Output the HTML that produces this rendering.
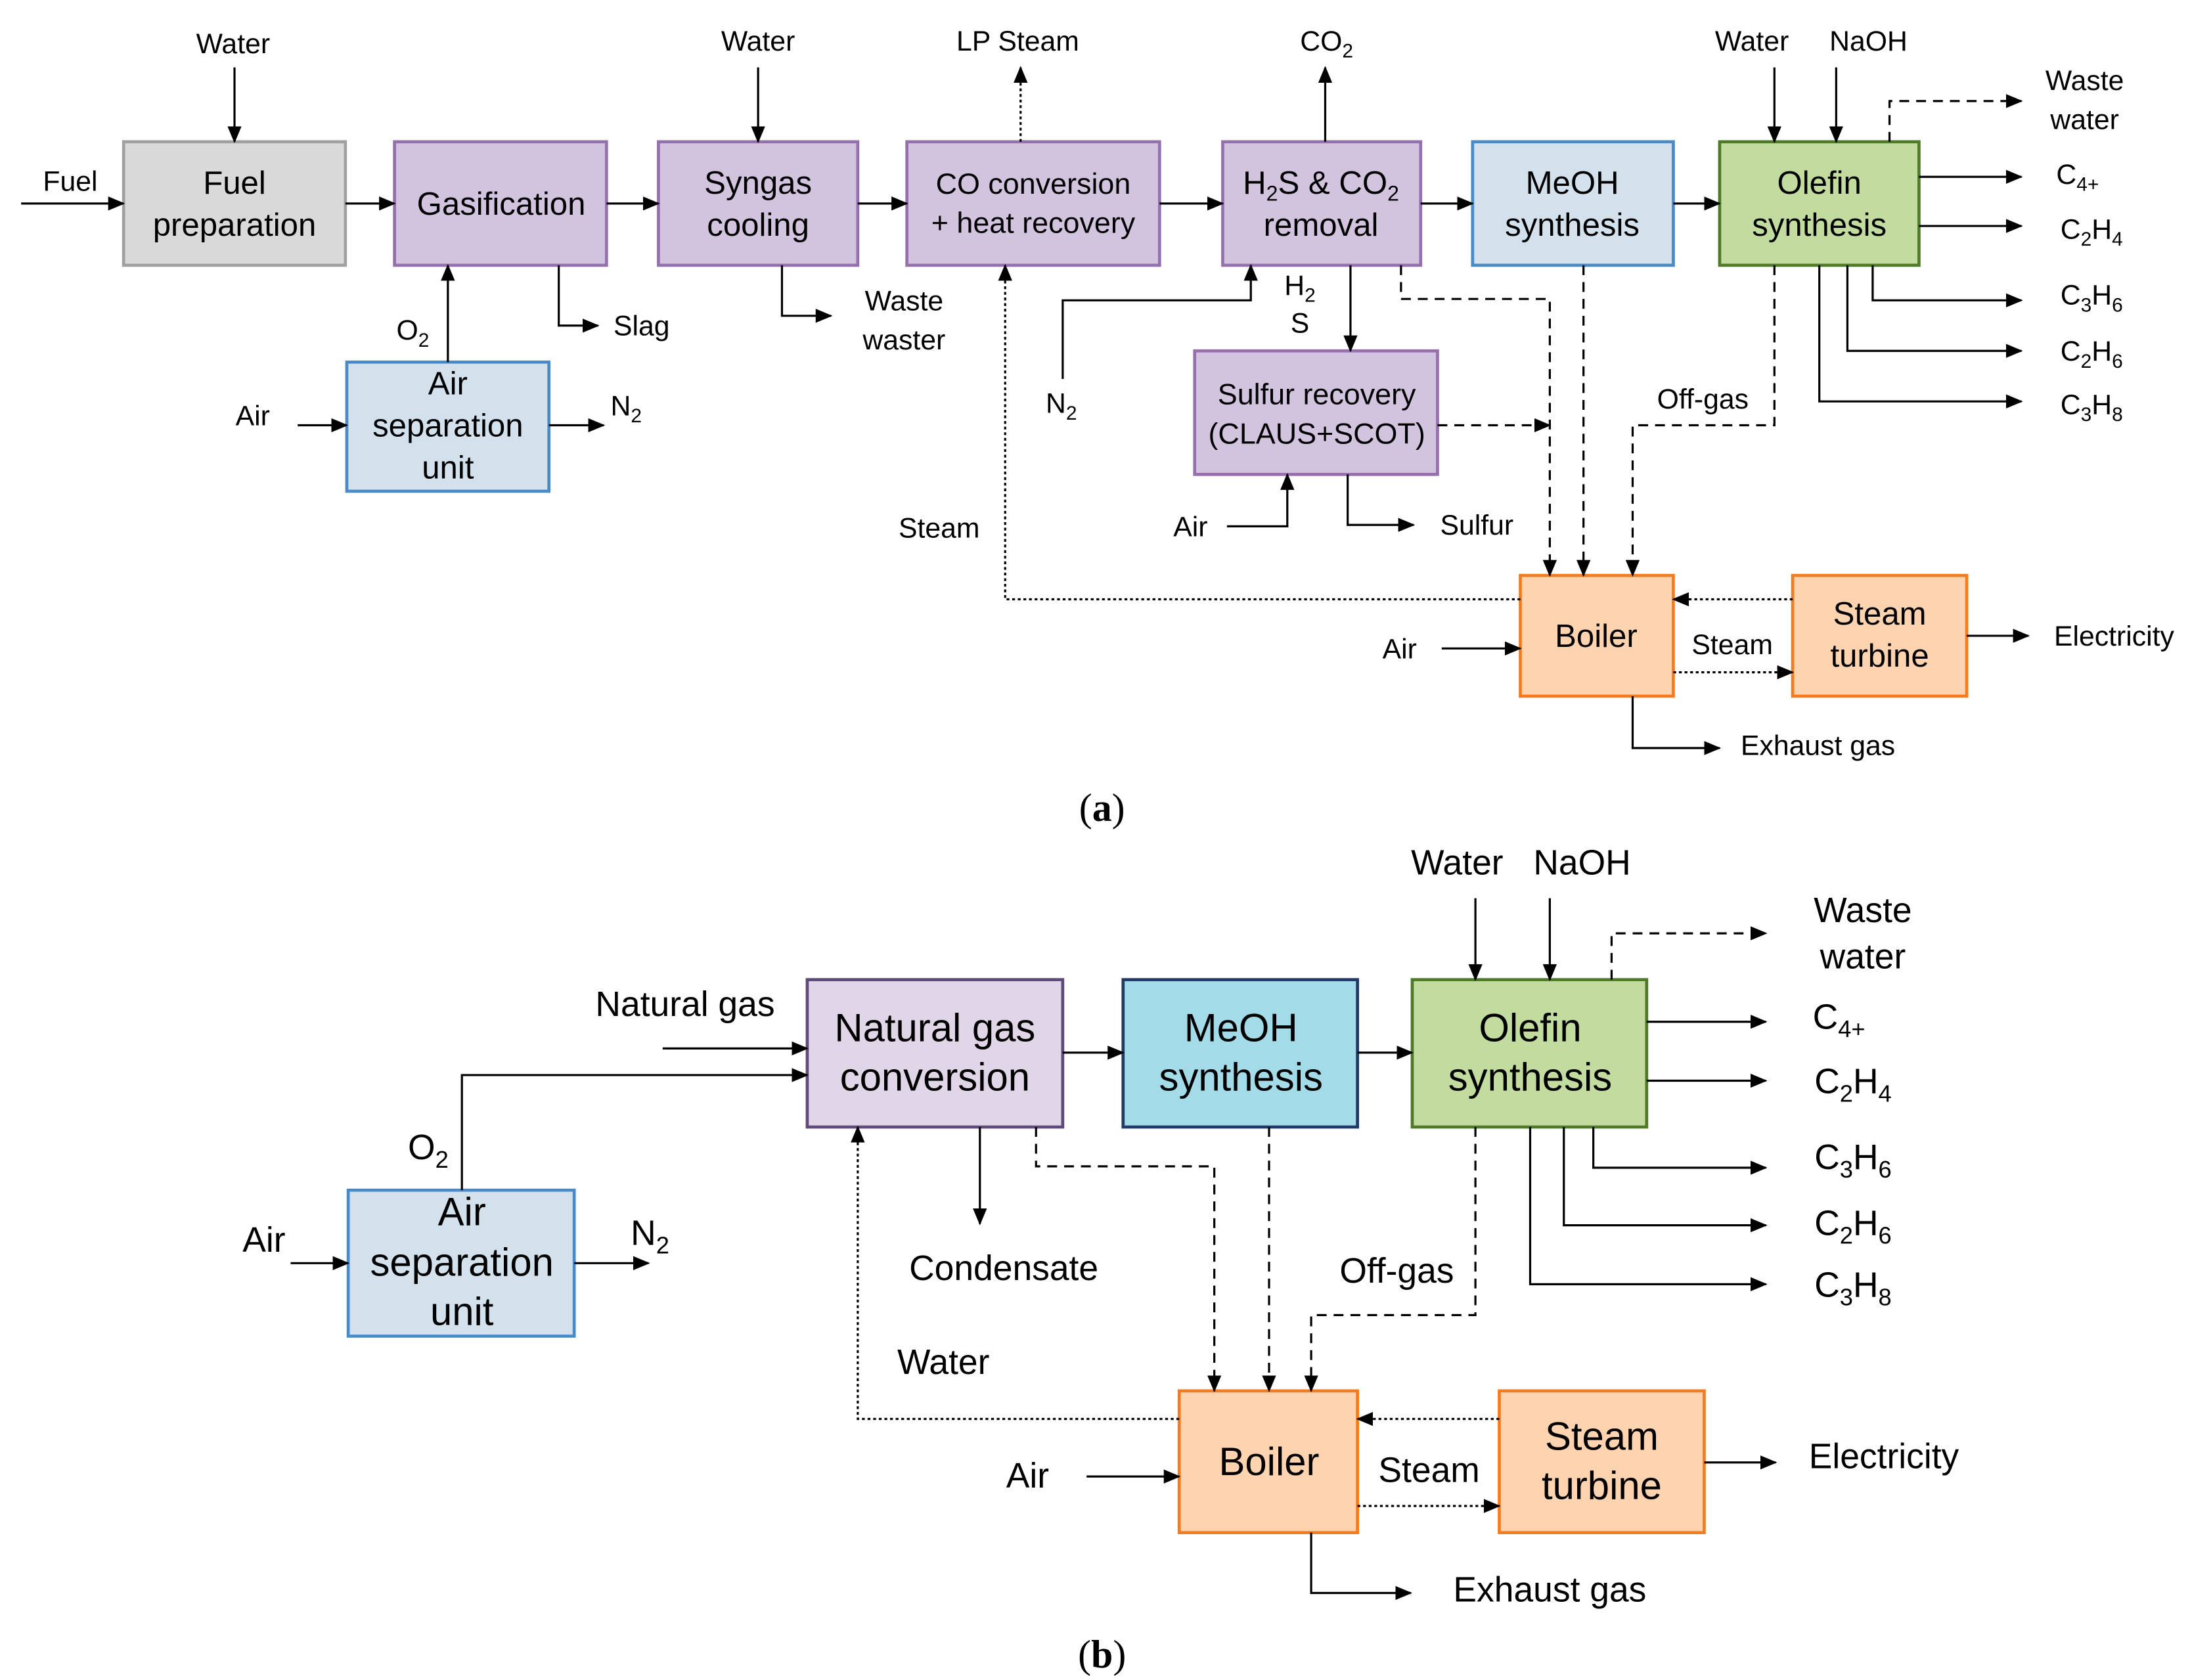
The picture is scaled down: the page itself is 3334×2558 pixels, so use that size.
<!DOCTYPE html>
<html><head><meta charset="utf-8"><style>html,body{margin:0;padding:0;background:#fff}svg{display:block}</style></head>
<body>
<svg xmlns="http://www.w3.org/2000/svg" width="3334" height="2558" viewBox="0 0 1560 1197" font-family="Liberation Sans, Arial, sans-serif">
<defs>
<marker id="a" markerUnits="userSpaceOnUse" markerWidth="12" markerHeight="10" refX="11" refY="5" orient="auto"><path d="M0,0 L12,5 L0,10 Z" fill="#000"/></marker>
</defs>
<rect width="1560" height="1197" fill="#fff"/>
<g stroke-width="2.2">
<!-- (a) boxes -->
<rect x="88" y="101" width="158" height="88" fill="#d9d9d9" stroke="#a0a0a0"/>
<rect x="281" y="101" width="151" height="88" fill="#d2c4de" stroke="#9570ad"/>
<rect x="469" y="101" width="142" height="88" fill="#d2c4de" stroke="#9570ad"/>
<rect x="646" y="101" width="180" height="88" fill="#d2c4de" stroke="#9570ad"/>
<rect x="871" y="101" width="141" height="88" fill="#d2c4de" stroke="#9570ad"/>
<rect x="1049" y="101" width="143" height="88" fill="#d3e1ec" stroke="#4a8ac6"/>
<rect x="1225" y="101" width="142" height="88" fill="#c2db9f" stroke="#4f7a2a"/>
<rect x="247" y="258" width="144" height="92" fill="#d3e1ec" stroke="#4a8ac6"/>
<rect x="851" y="250" width="173" height="88" fill="#d2c4de" stroke="#9570ad"/>
<rect x="1083" y="410" width="109" height="86" fill="#fdd3b0" stroke="#f47c20"/>
<rect x="1277" y="410" width="124" height="86" fill="#fdd3b0" stroke="#f47c20"/>
<!-- (b) boxes -->
<rect x="575" y="698" width="182" height="105" fill="#e0d6e8" stroke="#5f4a7a"/>
<rect x="800" y="698" width="167" height="105" fill="#a3dbe8" stroke="#1f3b66"/>
<rect x="1006" y="698" width="167" height="105" fill="#c2db9f" stroke="#4f7a2a"/>
<rect x="248" y="848" width="161" height="104" fill="#d3e1ec" stroke="#4a8ac6"/>
<rect x="840" y="991" width="127" height="101" fill="#fdd3b0" stroke="#f47c20"/>
<rect x="1068" y="991" width="146" height="101" fill="#fdd3b0" stroke="#f47c20"/>
</g>

<g fill="none" stroke="#000" stroke-width="1.5">
<!-- (a) solid -->
<path d="M15,145H88" marker-end="url(#a)"/>
<path d="M167,48V101" marker-end="url(#a)"/>
<path d="M246,145H281" marker-end="url(#a)"/>
<path d="M432,145H469" marker-end="url(#a)"/>
<path d="M540,48V101" marker-end="url(#a)"/>
<path d="M611,145H646" marker-end="url(#a)"/>
<path d="M826,145H871" marker-end="url(#a)"/>
<path d="M944,101V48" marker-end="url(#a)"/>
<path d="M1012,145H1049" marker-end="url(#a)"/>
<path d="M1192,145H1225" marker-end="url(#a)"/>
<path d="M1264,48V101" marker-end="url(#a)"/>
<path d="M1308,48V101" marker-end="url(#a)"/>
<path d="M1367,126H1440" marker-end="url(#a)"/>
<path d="M1367,161H1440" marker-end="url(#a)"/>
<path d="M1334,189V214H1440" marker-end="url(#a)"/>
<path d="M1316,189V250H1440" marker-end="url(#a)"/>
<path d="M1296,189V286H1440" marker-end="url(#a)"/>
<path d="M398,189V232H426" marker-end="url(#a)"/>
<path d="M557,189V225H592" marker-end="url(#a)"/>
<path d="M319,258V189" marker-end="url(#a)"/>
<path d="M212,303H247" marker-end="url(#a)"/>
<path d="M391,303H430" marker-end="url(#a)"/>
<path d="M757,270V214H891V189" marker-end="url(#a)"/>
<path d="M962,189V250" marker-end="url(#a)"/>
<path d="M874,375H917V338" marker-end="url(#a)"/>
<path d="M960,338V374H1007" marker-end="url(#a)"/>
<path d="M1027,462H1083" marker-end="url(#a)"/>
<path d="M1401,453H1445" marker-end="url(#a)"/>
<path d="M1163,496V533H1225" marker-end="url(#a)"/>
<!-- (a) dashed -->
<g stroke-dasharray="7,5">
<path d="M1346,101V72H1440" marker-end="url(#a)"/>
<path d="M998,189V213H1104V410" marker-end="url(#a)"/>
<path d="M1024,303H1104" marker-end="url(#a)"/>
<path d="M1128,189V410" marker-end="url(#a)"/>
<path d="M1264,189V303H1163V410" marker-end="url(#a)"/>
</g>
<g stroke-dasharray="2,2">
<path d="M727,101V48" marker-end="url(#a)"/>
<path d="M1083,427H716V189" marker-end="url(#a)"/>
<path d="M1277,427H1192" marker-end="url(#a)"/>
<path d="M1192,479H1277" marker-end="url(#a)"/>
</g>
<!-- (b) solid -->
<path d="M472,747H575" marker-end="url(#a)"/>
<path d="M329,848V766H575" marker-end="url(#a)"/>
<path d="M207,900H248" marker-end="url(#a)"/>
<path d="M409,900H462" marker-end="url(#a)"/>
<path d="M757,750H800" marker-end="url(#a)"/>
<path d="M967,750H1006" marker-end="url(#a)"/>
<path d="M1051,640V698" marker-end="url(#a)"/>
<path d="M1104,640V698" marker-end="url(#a)"/>
<path d="M1173,728H1258" marker-end="url(#a)"/>
<path d="M1173,770H1258" marker-end="url(#a)"/>
<path d="M1135,803V832H1258" marker-end="url(#a)"/>
<path d="M1114,803V873H1258" marker-end="url(#a)"/>
<path d="M1090,803V915H1258" marker-end="url(#a)"/>
<path d="M698,803V872" marker-end="url(#a)"/>
<path d="M774,1052H840" marker-end="url(#a)"/>
<path d="M1214,1042H1265" marker-end="url(#a)"/>
<path d="M934,1092V1135H1005" marker-end="url(#a)"/>
<g stroke-dasharray="7,5">
<path d="M1148,698V665H1258" marker-end="url(#a)"/>
<path d="M738,803V831H865V991" marker-end="url(#a)"/>
<path d="M904,803V991" marker-end="url(#a)"/>
<path d="M1051,803V937H934V991" marker-end="url(#a)"/>
</g>
<g stroke-dasharray="2,2">
<path d="M840,1011H611V803" marker-end="url(#a)"/>
<path d="M1068,1011H967" marker-end="url(#a)"/>
<path d="M967,1073H1068" marker-end="url(#a)"/>
</g>
</g>

<g fill="#000" text-anchor="middle">
<!-- (a) box labels -->
<g font-size="23">
<text x="167" y="138">Fuel</text><text x="167" y="168">preparation</text>
<text x="357" y="153">Gasification</text>
<text x="540" y="138">Syngas</text><text x="540" y="168">cooling</text>
<text x="736" y="138" font-size="21">CO conversion</text><text x="736" y="166" font-size="21">+ heat recovery</text>
<text x="941" y="138">H<tspan font-size="15" dy="5">2</tspan><tspan dy="-5">S &amp; CO</tspan><tspan font-size="15" dy="5">2</tspan></text><text x="941" y="168">removal</text>
<text x="1120" y="138">MeOH</text><text x="1120" y="168">synthesis</text>
<text x="1296" y="138">Olefin</text><text x="1296" y="168">synthesis</text>
<text x="319" y="281">Air</text><text x="319" y="311">separation</text><text x="319" y="341">unit</text>
<text x="938" y="288" font-size="21">Sulfur recovery</text><text x="938" y="316" font-size="21">(CLAUS+SCOT)</text>
<text x="1137" y="461">Boiler</text>
<text x="1339" y="445">Steam</text><text x="1339" y="475">turbine</text>
</g>
<!-- (a) labels -->
<g font-size="20">
<text x="166" y="38">Water</text>
<text x="50" y="136">Fuel</text>
<text x="540" y="36">Water</text>
<text x="725" y="36">LP Steam</text>
<text x="945" y="36">CO<tspan font-size="14" dy="5">2</tspan></text>
<text x="1248" y="36">Water</text>
<text x="1331" y="36">NaOH</text>
<text x="1485" y="64">Waste</text><text x="1485" y="92">water</text>
<text x="1480" y="131">C<tspan font-size="14" dy="5">4+</tspan></text>
<text x="1490" y="170">C<tspan font-size="14" dy="5">2</tspan><tspan dy="-5">H</tspan><tspan font-size="14" dy="5">4</tspan></text>
<text x="1490" y="217">C<tspan font-size="14" dy="5">3</tspan><tspan dy="-5">H</tspan><tspan font-size="14" dy="5">6</tspan></text>
<text x="1490" y="257">C<tspan font-size="14" dy="5">2</tspan><tspan dy="-5">H</tspan><tspan font-size="14" dy="5">6</tspan></text>
<text x="1490" y="295">C<tspan font-size="14" dy="5">3</tspan><tspan dy="-5">H</tspan><tspan font-size="14" dy="5">8</tspan></text>
<text x="457" y="239">Slag</text>
<text x="644" y="221">Waste</text><text x="644" y="249">waster</text>
<text x="294" y="242">O<tspan font-size="14" dy="5">2</tspan></text>
<text x="180" y="303">Air</text>
<text x="446" y="296">N<tspan font-size="14" dy="5">2</tspan></text>
<text x="756" y="294">N<tspan font-size="14" dy="5">2</tspan></text>
<text x="926" y="210">H<tspan font-size="14" dy="5">2</tspan></text>
<text x="926" y="237">S</text>
<text x="1213" y="291">Off-gas</text>
<text x="848" y="382">Air</text>
<text x="1052" y="381">Sulfur</text>
<text x="669" y="383">Steam</text>
<text x="1234" y="466">Steam</text>
<text x="997" y="469">Air</text>
<text x="1506" y="460">Electricity</text>
<text x="1295" y="538">Exhaust gas</text>
</g>
<text x="785" y="585" font-family="Liberation Serif, serif" font-size="28">(<tspan font-weight="bold">a</tspan>)</text>
<!-- (b) box labels -->
<g font-size="28">
<text x="666" y="742">Natural gas</text><text x="666" y="777">conversion</text>
<text x="884" y="742">MeOH</text><text x="884" y="777">synthesis</text>
<text x="1090" y="742">Olefin</text><text x="1090" y="777">synthesis</text>
<text x="329" y="873">Air</text><text x="329" y="909">separation</text><text x="329" y="944">unit</text>
<text x="904" y="1051">Boiler</text>
<text x="1141" y="1033">Steam</text><text x="1141" y="1068">turbine</text>
</g>
<g font-size="25">
<text x="488" y="724">Natural gas</text>
<text x="305" y="826">O<tspan font-size="17" dy="6">2</tspan></text>
<text x="188" y="892">Air</text>
<text x="463" y="887">N<tspan font-size="17" dy="6">2</tspan></text>
<text x="1038" y="623">Water</text>
<text x="1127" y="623">NaOH</text>
<text x="1327" y="657">Waste</text><text x="1327" y="690">water</text>
<text x="1310" y="733">C<tspan font-size="17" dy="6">4+</tspan></text>
<text x="1320" y="779">C<tspan font-size="17" dy="6">2</tspan><tspan dy="-6">H</tspan><tspan font-size="17" dy="6">4</tspan></text>
<text x="1320" y="833">C<tspan font-size="17" dy="6">3</tspan><tspan dy="-6">H</tspan><tspan font-size="17" dy="6">6</tspan></text>
<text x="1320" y="880">C<tspan font-size="17" dy="6">2</tspan><tspan dy="-6">H</tspan><tspan font-size="17" dy="6">6</tspan></text>
<text x="1320" y="924">C<tspan font-size="17" dy="6">3</tspan><tspan dy="-6">H</tspan><tspan font-size="17" dy="6">8</tspan></text>
<text x="715" y="912">Condensate</text>
<text x="995" y="914">Off-gas</text>
<text x="672" y="979">Water</text>
<text x="1018" y="1056">Steam</text>
<text x="732" y="1060">Air</text>
<text x="1342" y="1046">Electricity</text>
<text x="1104" y="1141">Exhaust gas</text>
</g>
<text x="785" y="1188" font-family="Liberation Serif, serif" font-size="28">(<tspan font-weight="bold">b</tspan>)</text>
</g>
</svg>
</body></html>
